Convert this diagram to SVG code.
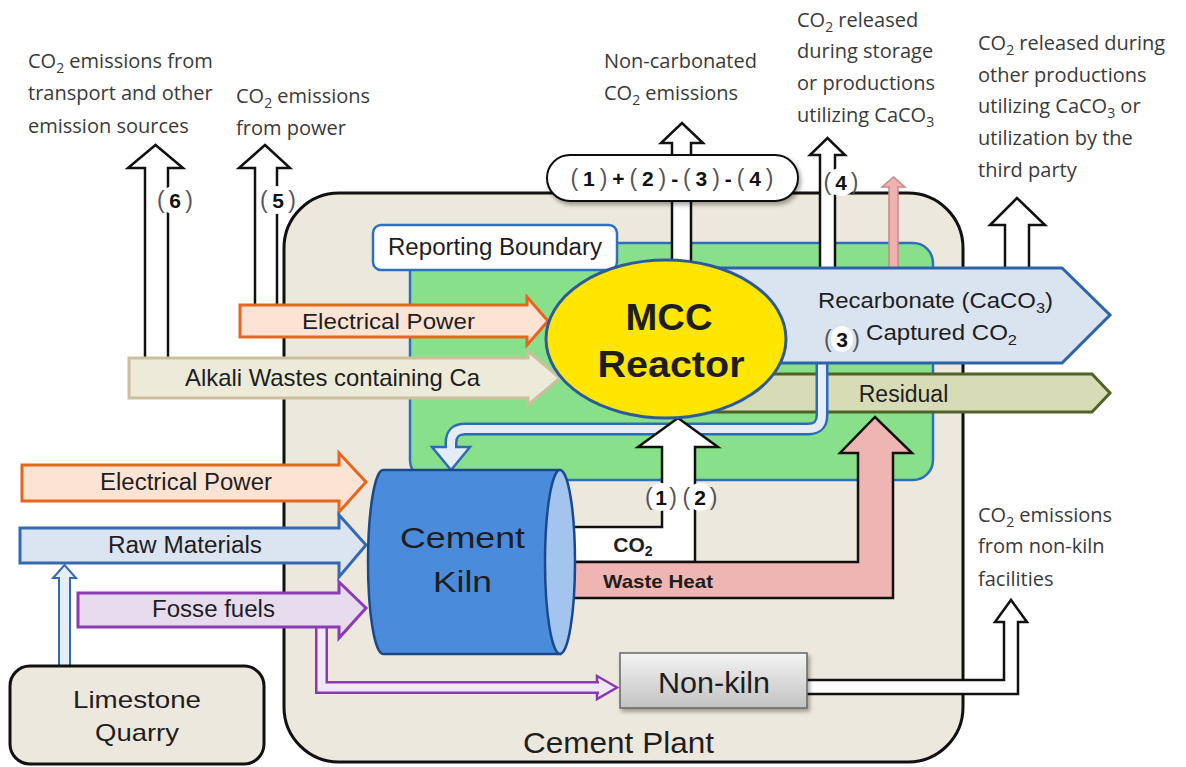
<svg xmlns="http://www.w3.org/2000/svg" width="1186" height="767" viewBox="0 0 1186 767">
<defs>
<style>
.t{font-family:"Open Sans","Noto Sans","DejaVu Sans",sans-serif;font-size:20px;fill:#3a3a3a}
.s{font-size:14px}
.l{font-family:"Liberation Sans",Arial,sans-serif;fill:#1e1e1e}
.b{font-weight:bold}
.ol{fill:#fff;stroke:#111;stroke-width:2.5;stroke-linejoin:miter}
.num{font-family:"Liberation Sans",Arial,sans-serif;font-size:21px;font-weight:bold;fill:#111}
.par{font-weight:normal;fill:#555;font-size:23px}
.wbg{fill:#fff}
</style>
<linearGradient id="gk" x1="0" y1="0" x2="0" y2="1"><stop offset="0" stop-color="#f4f4f4"/><stop offset="1" stop-color="#c2c2c2"/></linearGradient>
<filter id="sh" x="-10%" y="-20%" width="130%" height="160%"><feDropShadow dx="2" dy="3" stdDeviation="2" flood-color="#000" flood-opacity="0.35"/></filter>
</defs>
<rect width="1186" height="767" fill="#fff"/>

<g id="cement-plant">
<rect x="284" y="193" width="679" height="569" rx="55" fill="#ede8dd" stroke="#111" stroke-width="3"/>
<text class="l" x="618.5" y="753" font-size="29" text-anchor="middle" textLength="191" lengthAdjust="spacingAndGlyphs">Cement Plant</text>
</g>

<g id="reporting-boundary">
<rect x="410" y="243" width="523" height="237" rx="20" fill="#88e08a" stroke="#2f6fbf" stroke-width="2.5"/>
<rect x="373" y="225" width="244" height="45" rx="8" fill="#fff" stroke="#2f6fbf" stroke-width="2.5"/>
<text class="l" x="495" y="255" font-size="23" text-anchor="middle" textLength="214" lengthAdjust="spacingAndGlyphs">Reporting Boundary</text>
</g>

<g id="connectors">
<!-- (6) transport emissions -->
<polygon class="ol" points="145,362 145,168 128,168 155.5,145 183,168 168,168 168,362"/>
<!-- (5) power emissions -->
<polygon class="ol" points="255,309 255,168 239,168 265,145 290,168 277,168 277,309"/>
<!-- non-carbonated -->
<polygon class="ol" points="672,272 672,143 661,143 682,123 703,143 691,143 691,272"/>
<!-- (4) -->
<polygon class="ol" points="820,275 820,155 810,155 827.5,138 845,155 835,155 835,275"/>
<!-- pink small -->
<polygon points="889,275 889,187 882,187 893.5,177 905,187 898,187 898,275" fill="#f0b2b0" stroke="#c98885" stroke-width="1.5"/>
<!-- far right -->
<polygon class="ol" points="1005,275 1005,225 990,225 1017,198 1045,225 1029,225 1029,275"/>

<!-- Residual -->
<polygon points="700,374 1092,374 1110,393 1092,412 700,412" fill="#d8dcb6" stroke="#4f6228" stroke-width="3"/>
<!-- recycle pipe head + pipe -->
<polygon points="432,447 470,447 451,470" fill="#e4ecf8" stroke="#2f6bb5" stroke-width="2.5" stroke-linejoin="miter"/>
<path d="M822 360 V415 Q822 429 808 429 H465 Q451 429 451 443 V448" fill="none" stroke="#2f6bb5" stroke-width="13"/>
<path d="M822 360 V415 Q822 429 808 429 H465 Q451 429 451 443 V450" fill="none" stroke="#e4ecf8" stroke-width="8"/>
<!-- Recarbonate -->
<polygon points="700,268 1062,268 1110,315 1062,363 700,363" fill="#dae3f0" stroke="#2c64a8" stroke-width="3"/>

<!-- inputs to reactor -->
<polygon points="240,305 527,305 527,297 548,321 527,345 527,337 240,337" fill="#fde3d3" stroke="#e8661c" stroke-width="3"/>
<polygon points="129,358 528,358 528,351 560,378 528,405 528,398 129,398" fill="#ecead8" stroke="#cbbf9e" stroke-width="3"/>

<!-- kiln outputs -->
<polygon class="ol" points="560,527 662,527 662,447 638,447 678,418 718,447 695,447 695,562 560,562"/>
<polygon points="560,562 858,562 858,453 840,453 875,417 912,453 893,453 893,598 560,598" fill="#efb5b2" stroke="#111" stroke-width="2.5"/>

<!-- purple pipe to non-kiln -->
<polygon points="597,676 617,687.5 597,699" fill="#f1e8f7" stroke="#8a3ab0" stroke-width="2.5"/>
<path d="M321.5 625 V687.5 H599" fill="none" stroke="#8a3ab0" stroke-width="13"/>
<path d="M321.5 625 V687.5 H601" fill="none" stroke="#f1e8f7" stroke-width="8"/>

<!-- kiln inputs -->
<polygon points="22,465 339,465 339,453 366,482 339,512 339,501 22,501" fill="#fde3d3" stroke="#e8661c" stroke-width="3"/>
<polygon points="20,528 339,528 339,515 366,545 339,577 339,563 20,563" fill="#dbe4f1" stroke="#3569b0" stroke-width="3"/>
<polygon points="78,593 339,593 339,582 366,608 339,638 339,627 78,627" fill="#e7dcee" stroke="#8b3bb4" stroke-width="3"/>

<!-- non-kiln output -->
<polygon class="ol" points="805,680 1004,680 1004,622 995,622 1011,600 1027,622 1018,622 1018,694 805,694"/>

<!-- quarry to raw materials -->
<polygon points="59,667 59,578 53,578 64.5,565 76,578 70,578 70,667" fill="#e5edf8" stroke="#3569b0" stroke-width="2"/>
</g>

<g id="formula">
<rect x="547" y="155" width="251" height="46" rx="23" fill="#fff" stroke="#111" stroke-width="2" filter="url(#sh)"/>
<text class="num" x="672" y="186" text-anchor="middle" textLength="203" lengthAdjust="spacing"><tspan class="par">(</tspan>1<tspan class="par">)</tspan>+<tspan class="par">(</tspan>2<tspan class="par">)</tspan>-<tspan class="par">(</tspan>3<tspan class="par">)</tspan>-<tspan class="par">(</tspan>4<tspan class="par">)</tspan></text>
</g>

<g id="mcc-reactor">
<ellipse cx="666" cy="339" rx="120" ry="79" fill="#ffe600" stroke="#2d5b9a" stroke-width="3"/>
<text class="l b" x="669" y="330" font-size="37" text-anchor="middle" textLength="87" lengthAdjust="spacingAndGlyphs" fill="#000">MCC</text>
<text class="l b" x="671" y="377" font-size="37" text-anchor="middle" textLength="147" lengthAdjust="spacingAndGlyphs" fill="#000">Reactor</text>
</g>

<g id="cement-kiln">
<path d="M560 470 H383 A15 92 0 0 0 383 654 H560 Z" fill="#4a8bdb" stroke="#1a4a8a" stroke-width="2.5"/>
<ellipse cx="560" cy="562" rx="15" ry="92" fill="#a3c4ef" stroke="#1a4a8a" stroke-width="2.5"/>
<text class="l" x="462.5" y="548" font-size="29" text-anchor="middle" textLength="125" lengthAdjust="spacingAndGlyphs" fill="#000">Cement</text>
<text class="l" x="462.5" y="592" font-size="29" text-anchor="middle" textLength="59" lengthAdjust="spacingAndGlyphs" fill="#000">Kiln</text>
</g>

<g id="non-kiln">
<rect x="620" y="653" width="187" height="55" fill="url(#gk)" stroke="#666" stroke-width="1.5" filter="url(#sh)"/>
<text class="l" x="714" y="693" font-size="30" text-anchor="middle" textLength="112" lengthAdjust="spacingAndGlyphs" fill="#111">Non-kiln</text>
</g>

<g id="limestone-quarry">
<rect x="10" y="666" width="254" height="98" rx="20" fill="#ede8dd" stroke="#111" stroke-width="3"/>
<text class="l" x="137" y="708" font-size="24" text-anchor="middle" textLength="128" lengthAdjust="spacingAndGlyphs">Limestone</text>
<text class="l" x="137" y="741" font-size="24" text-anchor="middle" textLength="84" lengthAdjust="spacingAndGlyphs">Quarry</text>
</g>

<g id="arrow-labels">
<text class="l" x="388.5" y="329" font-size="22" text-anchor="middle" textLength="173" lengthAdjust="spacingAndGlyphs">Electrical Power</text>
<text class="l" x="332.5" y="386" font-size="24" text-anchor="middle" textLength="295" lengthAdjust="spacingAndGlyphs">Alkali Wastes containing Ca</text>
<text class="l" x="186" y="490" font-size="23" text-anchor="middle" textLength="172" lengthAdjust="spacingAndGlyphs">Electrical Power</text>
<text class="l" x="185" y="553" font-size="23" text-anchor="middle" textLength="154" lengthAdjust="spacingAndGlyphs">Raw Materials</text>
<text class="l" x="213.5" y="617" font-size="23" text-anchor="middle" textLength="123" lengthAdjust="spacingAndGlyphs">Fosse fuels</text>
<text class="l" x="818" y="308" font-size="22" textLength="235" lengthAdjust="spacingAndGlyphs">Recarbonate (CaCO<tspan dy="5" font-size="15">3</tspan><tspan dy="-5">)</tspan></text>
<text class="l" x="866" y="340" font-size="22" textLength="151" lengthAdjust="spacingAndGlyphs">Captured CO<tspan dy="5" font-size="15">2</tspan></text>
<text class="l" x="903.5" y="402" font-size="23" text-anchor="middle">Residual</text>
<text class="l b" x="633" y="552" font-size="21" text-anchor="middle" fill="#000">CO<tspan dy="4" font-size="14">2</tspan></text>
<text class="l b" x="658" y="588" font-size="19" text-anchor="middle" textLength="110" lengthAdjust="spacingAndGlyphs" fill="#111">Waste Heat</text>
</g>

<g id="number-labels">
<ellipse class="wbg" cx="175" cy="200" rx="16" ry="14"/>
<text class="num" x="175" y="208" text-anchor="middle" textLength="36" lengthAdjust="spacing"><tspan class="par">(</tspan>6<tspan class="par">)</tspan></text>
<ellipse class="wbg" cx="278" cy="200" rx="16" ry="14"/>
<text class="num" x="278" y="208" text-anchor="middle" textLength="36" lengthAdjust="spacing"><tspan class="par">(</tspan>5<tspan class="par">)</tspan></text>
<ellipse class="wbg" cx="841" cy="182" rx="15" ry="14"/>
<text class="num" x="841" y="190" text-anchor="middle" textLength="35" lengthAdjust="spacing"><tspan class="par">(</tspan>4<tspan class="par">)</tspan></text>
<ellipse class="wbg" cx="842" cy="339" rx="11" ry="13"/>
<text class="num" x="842" y="347" text-anchor="middle" textLength="36" lengthAdjust="spacing"><tspan class="par">(</tspan>3<tspan class="par">)</tspan></text>
<ellipse class="wbg" cx="661" cy="497" rx="13" ry="14"/>
<text class="num" x="661" y="505" text-anchor="middle" textLength="32" lengthAdjust="spacing"><tspan class="par">(</tspan>1<tspan class="par">)</tspan></text>
<ellipse class="wbg" cx="700" cy="497" rx="13" ry="14"/>
<text class="num" x="700" y="505" text-anchor="middle" textLength="35" lengthAdjust="spacing"><tspan class="par">(</tspan>2<tspan class="par">)</tspan></text>
</g>

<g id="emission-texts">
<text class="t" x="28" y="68">CO<tspan class="s" dy="5">2</tspan><tspan dy="-5"> emissions from</tspan></text>
<text class="t" x="28" y="100">transport and other</text>
<text class="t" x="28" y="133">emission sources</text>
<text class="t" x="236" y="103">CO<tspan class="s" dy="5">2</tspan><tspan dy="-5"> emissions</tspan></text>
<text class="t" x="236" y="135">from power</text>
<text class="t" x="604" y="68">Non-carbonated</text>
<text class="t" x="604" y="100">CO<tspan class="s" dy="5">2</tspan><tspan dy="-5"> emissions</tspan></text>
<text class="t" x="797" y="27">CO<tspan class="s" dy="5">2</tspan><tspan dy="-5"> released</tspan></text>
<text class="t" x="797" y="58">during storage</text>
<text class="t" x="797" y="90">or productions</text>
<text class="t" x="797" y="122">utilizing CaCO<tspan class="s" dy="5">3</tspan></text>
<text class="t" x="978" y="50">CO<tspan class="s" dy="5">2</tspan><tspan dy="-5"> released  during</tspan></text>
<text class="t" x="978" y="82">other productions</text>
<text class="t" x="978" y="113">utilizing CaCO<tspan class="s" dy="5">3</tspan><tspan dy="-5"> or</tspan></text>
<text class="t" x="978" y="145">utilization by the</text>
<text class="t" x="978" y="177">third party</text>
<text class="t" x="978" y="522">CO<tspan class="s" dy="5">2</tspan><tspan dy="-5"> emissions</tspan></text>
<text class="t" x="978" y="553">from non-kiln</text>
<text class="t" x="978" y="586">facilities</text>
</g>
</svg>
